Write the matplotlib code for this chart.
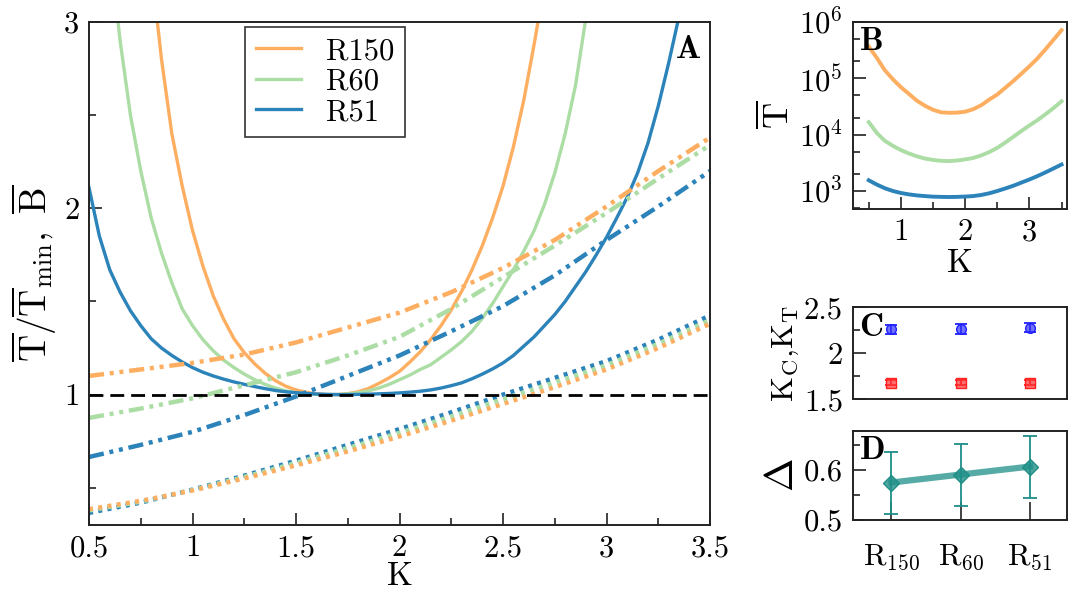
import numpy as np
import matplotlib
matplotlib.use('Agg')
import matplotlib.pyplot as plt
from matplotlib.ticker import MultipleLocator, FixedLocator, NullFormatter, LogLocator

plt.rcParams['font.family'] = 'serif'
plt.rcParams['font.serif'] = ['cmr10', 'DejaVu Serif']
plt.rcParams['mathtext.fontset'] = 'cm'
plt.rcParams['axes.formatter.use_mathtext'] = True
plt.rcParams['axes.unicode_minus'] = False

# ---- panel A, solid lines: T/Tmin (own K grid per set, step 0.05) ----
k_r150 = np.round(np.arange(0.75, 2.751, 0.05), 2)
t_r150 = [4.0, 3.3, 2.8, 2.4, 2.12, 1.88, 1.69, 1.53, 1.405, 1.30, 1.225, 1.165, 1.115, 1.075, 1.045,
          1.025, 1.012, 1.004, 1.0, 1.0, 1.005, 1.015, 1.033, 1.06, 1.09, 1.125, 1.175, 1.23, 1.295,
          1.37, 1.455, 1.555, 1.67, 1.80, 1.95, 2.12, 2.33, 2.58, 2.88, 3.2, 3.6]
k_r60 = np.round(np.arange(0.60, 2.951, 0.05), 2)
t_r60 = [3.4, 2.9, 2.5, 2.2, 1.95, 1.76, 1.60, 1.46, 1.37, 1.295, 1.235, 1.185, 1.145, 1.11, 1.08,
         1.055, 1.035, 1.02, 1.01, 1.004, 1.001, 1.0, 1.0, 1.003, 1.01, 1.02, 1.035, 1.055, 1.08,
         1.105, 1.135, 1.16, 1.20, 1.24, 1.285, 1.34, 1.41, 1.49, 1.58, 1.67, 1.77, 1.88, 2.02,
         2.19, 2.40, 2.66, 3.02, 3.4]
k_r51 = np.round(np.arange(0.50, 3.401, 0.05), 2)
t_r51 = [2.11, 1.85, 1.67, 1.55, 1.45, 1.37, 1.30, 1.25, 1.21, 1.175, 1.145, 1.12, 1.10, 1.083, 1.068,
         1.055, 1.043, 1.032, 1.022, 1.015, 1.010, 1.006, 1.003, 1.001, 1.0, 1.0, 1.001, 1.002, 1.004,
         1.006, 1.009, 1.013, 1.018, 1.025, 1.035, 1.048, 1.063, 1.085, 1.11, 1.138, 1.17, 1.21, 1.26,
         1.31, 1.37, 1.43, 1.50, 1.58, 1.66, 1.75, 1.845, 1.95, 2.06, 2.19, 2.35, 2.55, 2.78, 3.03, 3.3]

# ---- panel A, dash-dot (B) and dotted lines ----
k_coarse = [0.5, 0.75, 1.0, 1.25, 1.5, 1.75, 2.0, 2.25, 2.5, 2.75, 3.0, 3.25, 3.5]
b_r150 = [1.10, 1.135, 1.17, 1.215, 1.28, 1.36, 1.44, 1.55, 1.68, 1.83, 2.01, 2.20, 2.38]
b_r60 = [0.875, 0.925, 0.98, 1.05, 1.12, 1.21, 1.31, 1.46, 1.63, 1.80, 1.975, 2.16, 2.34]
b_r51 = [0.665, 0.73, 0.80, 0.89, 0.99, 1.10, 1.21, 1.34, 1.475, 1.64, 1.83, 2.01, 2.20]
d_r150 = [0.385, 0.43, 0.485, 0.55, 0.62, 0.695, 0.775, 0.86, 0.95, 1.04, 1.135, 1.25, 1.38]
d_r60 = [0.378, 0.425, 0.488, 0.558, 0.633, 0.713, 0.795, 0.883, 0.975, 1.065, 1.158, 1.273, 1.40]
d_r51 = [0.365, 0.42, 0.49, 0.565, 0.645, 0.73, 0.815, 0.905, 1.0, 1.09, 1.18, 1.295, 1.425]

# ---- panel B data: T (log scale) ----
k_b = np.round(np.arange(0.5, 3.501, 0.125), 3)
tb_r150 = [3.63e5, 2.29e5, 1.38e5, 9.55e4, 6.92e4, 5.25e4, 3.98e4, 3.24e4, 2.75e4, 2.48e4, 2.43e4,
           2.45e4, 2.54e4, 2.82e4, 3.31e4, 4.17e4, 5.13e4, 6.76e4, 8.91e4, 1.20e5, 1.62e5, 2.24e5,
           3.24e5, 4.79e5, 7.08e5]
tb_r60 = [1.66e4, 1.07e4, 7.76e3, 6.31e3, 5.31e3, 4.62e3, 4.12e3, 3.76e3, 3.55e3, 3.43e3, 3.39e3,
          3.47e3, 3.63e3, 3.85e3, 4.27e3, 4.90e3, 5.82e3, 7.24e3, 9.12e3, 1.16e4, 1.45e4, 1.80e4,
          2.29e4, 2.95e4, 3.89e4]
tb_r51 = [1.55e3, 1.30e3, 1.12e3, 1.0e3, 923, 871, 836, 813, 794, 787, 783, 787, 798, 813, 851, 912,
          1.0e3, 1.11e3, 1.24e3, 1.41e3, 1.60e3, 1.84e3, 2.14e3, 2.51e3, 2.95e3]

# ---- panel C / D data ----
sets = [r'$\mathrm{R_{150}}$', r'$\mathrm{R_{60}}$', r'$\mathrm{R_{51}}$']
k_c = [2.26, 2.265, 2.28]
k_c_err = [0.05, 0.05, 0.05]
k_t = [1.68, 1.68, 1.68]
k_t_err = [0.03, 0.03, 0.03]
delta = [0.575, 0.591, 0.607]
delta_err = [0.062, 0.062, 0.062]

names = ['R150', 'R60', 'R51']
colors = ['#fdae61', '#abdda4', '#2b83ba']

fs = 22
fig = plt.figure(figsize=(10.78, 5.98), dpi=100)
fmt = plt.FuncFormatter(lambda v, p: '%g' % v)


def style_axes(ax):
    for s in ax.spines.values():
        s.set_linewidth(1.4)
        s.set_color('#222222')
    ax.tick_params(which='both', direction='in', top=False, right=False, labelsize=fs, width=1.2,
                   color='#222222', pad=7)
    ax.tick_params(which='major', length=9)
    ax.tick_params(which='minor', length=5)


# ---------------- A ----------------
axA = fig.add_axes([0.0826, 0.1221, 0.5761, 0.8411])
for k, y, c, n in zip([k_r150, k_r60, k_r51], [t_r150, t_r60, t_r51], colors, names):
    axA.plot(k, y, color=c, lw=2.4, label=n)
for y, c in zip([b_r150, b_r60, b_r51], colors):
    axA.plot(k_coarse, y, color=c, lw=3.2, dashes=(3.4, 1.3, 0.9, 1.3, 0.9, 1.3))
for y, c in zip([d_r51, d_r60, d_r150], colors[::-1]):
    axA.plot(k_coarse, y, color=c, lw=3.2, dashes=(0.9, 1.2))
axA.axhline(1.0, color='black', lw=2, dashes=(5, 2.5))
axA.set_xlim(0.5, 3.5)
axA.set_ylim(0.3, 3)
axA.xaxis.set_major_locator(MultipleLocator(0.5))
axA.xaxis.set_minor_locator(MultipleLocator(0.25))
axA.yaxis.set_major_locator(FixedLocator([1, 2, 3]))
axA.yaxis.set_minor_locator(FixedLocator([0.5, 1.5, 2.5]))
axA.xaxis.set_major_formatter(fmt)
axA.yaxis.set_major_formatter(fmt)
style_axes(axA)
axA.set_xlabel('K', fontsize=fs + 2, labelpad=0)
axA.set_ylabel(r'$\overline{\mathrm{T}}/\overline{\mathrm{T}}_{\mathrm{min}},\ \overline{\mathrm{B}}$',
               fontsize=fs + 5, labelpad=4)
axA.text(0.985, 0.975, r'$\mathbf{A}$', transform=axA.transAxes, ha='right', va='top', fontsize=fs + 2)
leg = axA.legend(loc='upper left', bbox_to_anchor=(0.251, 0.99), fontsize=fs, frameon=True, fancybox=False,
                 edgecolor='black', handlelength=1.5, handletextpad=0.8, borderpad=0.35, labelspacing=0.1,
                 borderaxespad=0)
leg.get_frame().set_linewidth(1.2)

# ---------------- B ----------------
axB = fig.add_axes([0.791, 0.6505, 0.1985, 0.3132])
for y, c in zip([tb_r150, tb_r60, tb_r51], colors):
    axB.plot(k_b, y, color=c, lw=2.8)
axB.set_yscale('log')
axB.set_xlim(0.25, 3.58)
axB.set_ylim(480, 1e6)
axB.xaxis.set_major_locator(FixedLocator([1, 2, 3]))
axB.xaxis.set_minor_locator(FixedLocator([0.5, 1.5, 2.5, 3.5]))
axB.xaxis.set_major_formatter(fmt)
axB.yaxis.set_major_locator(LogLocator(base=10, numticks=10))
axB.yaxis.set_minor_locator(LogLocator(base=10, subs=(2.0, 5.0), numticks=10))
axB.yaxis.set_minor_formatter(NullFormatter())
style_axes(axB)
axB.set_xlabel('K', fontsize=fs + 2, labelpad=2)
axB.set_ylabel(r'$\overline{\mathrm{T}}$', fontsize=fs + 4, labelpad=2)
axB.text(0.03, 0.97, r'$\mathbf{B}$', transform=axB.transAxes, ha='left', va='top', fontsize=fs + 2)

# ---------------- C ----------------
xpos = np.arange(len(sets))
axC = fig.add_axes([0.791, 0.3323, 0.1985, 0.1538])
axC.errorbar(xpos, k_c, yerr=k_c_err, fmt='o', color='#2020ff', mfc=(0.2, 0.2, 1, 0.7), mec='#2020ff',
             ms=7, capsize=4, elinewidth=1.3, capthick=1.3)
axC.errorbar(xpos, k_t, yerr=k_t_err, fmt='s', color='#ff2020', mfc=(1, 0.2, 0.2, 0.7), mec='#ff2020',
             ms=7, capsize=4, elinewidth=1.3, capthick=1.3)
axC.set_xlim(-0.56, 2.53)
axC.set_ylim(1.5, 2.5)
axC.set_xticks([])
axC.yaxis.set_major_locator(FixedLocator([1.5, 2, 2.5]))
axC.yaxis.set_minor_locator(FixedLocator([1.75, 2.25]))
axC.yaxis.set_major_formatter(fmt)
style_axes(axC)
axC.set_ylabel(r'$\mathrm{K_C}$,$\mathrm{K_T}$', fontsize=fs + 1, labelpad=2)
axC.text(0.03, 0.94, r'$\mathbf{C}$', transform=axC.transAxes, ha='left', va='top', fontsize=fs + 2)

# ---------------- D ----------------
axD = fig.add_axes([0.791, 0.1304, 0.1985, 0.1488])
teal = '#1f8f88'
axD.plot(xpos, delta, color=teal, lw=4.5, alpha=0.75)
axD.errorbar(xpos, delta, yerr=delta_err, fmt='D', color=teal, mfc=(0.12, 0.56, 0.53, 0.8), mec=teal,
             ms=8, capsize=5, elinewidth=1.3, capthick=1.3)
axD.set_xlim(-0.56, 2.53)
axD.set_ylim(0.5, 0.678)
axD.set_xticks(xpos)
axD.set_xticklabels(sets)
axD.yaxis.set_major_locator(FixedLocator([0.5, 0.6]))
axD.yaxis.set_minor_locator(FixedLocator([0.55, 0.65]))
axD.yaxis.set_major_formatter(fmt)
style_axes(axD)
axD.tick_params(axis='x', which='major', length=13, pad=16)
axD.set_ylabel(r'$\Delta$', fontsize=fs + 7, labelpad=2)
axD.text(0.03, 0.94, r'$\mathbf{D}$', transform=axD.transAxes, ha='left', va='top', fontsize=fs + 2)

plt.savefig('out.png', dpi=100)
